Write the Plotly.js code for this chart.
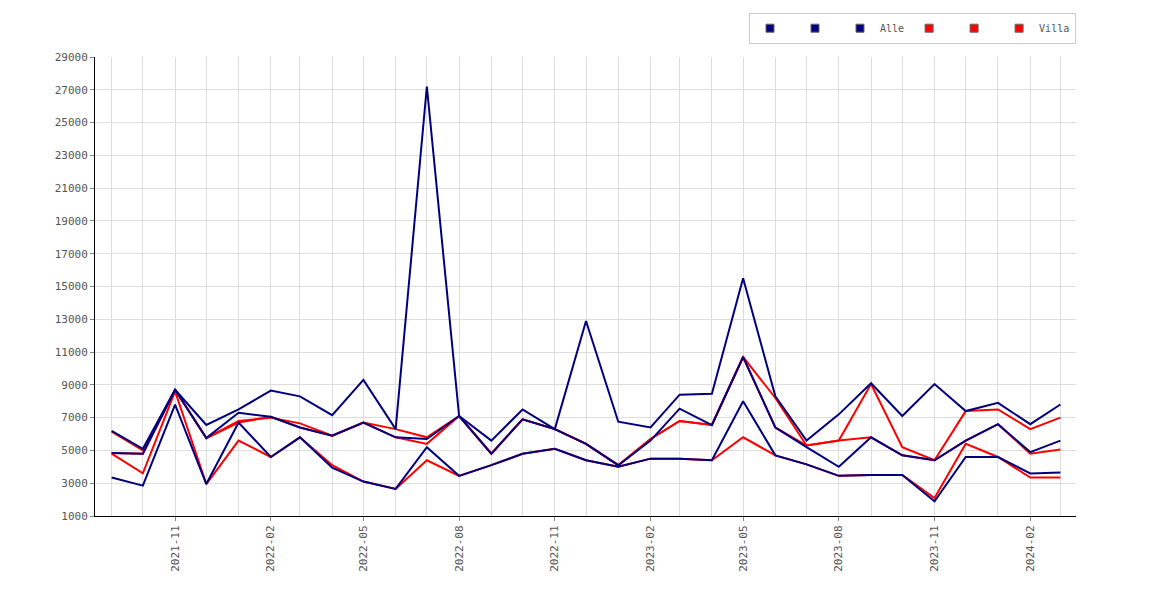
<!DOCTYPE html>
<html><head><meta charset="utf-8">
<script src="https://cdn.plot.ly/plotly-3.0.1.min.js"></script>
<style>body{margin:0}</style></head><body>
<div id="c" style="width:1170px;height:600px"></div>
<script>
const months = ["2021-09","2021-10","2021-11","2021-12","2022-01","2022-02","2022-03","2022-04","2022-05","2022-06","2022-07","2022-08","2022-09","2022-10","2022-11","2022-12","2023-01","2023-02","2023-03","2023-04","2023-05","2023-06","2023-07","2023-08","2023-09","2023-10","2023-11","2023-12","2024-01","2024-02","2024-03"];
const alleMax = [6200,5100,8700,6550,7500,8650,8300,7150,9300,6300,27200,7100,5600,7500,6300,12900,6750,6400,8400,8450,15500,8300,5600,7200,9100,7100,9050,7400,7900,6600,7800];
const alleMid = [4850,4800,8700,5750,7300,7050,6400,5900,6700,5800,5700,7100,4800,6900,6300,5400,4100,5600,7550,6550,10700,6400,5200,4000,5800,4700,4400,5600,6600,4900,5600];
const alleMin = [3350,2850,7800,2950,6700,4600,5800,3950,3100,2650,5200,3450,4100,4800,5100,4400,4000,4500,4500,4400,8000,4700,4150,3450,3500,3500,1900,4600,4600,3600,3650];
const villaMax = [6150,5000,8700,5750,6800,7000,6650,5900,6700,6300,5800,7100,4800,6900,6300,5400,4100,5700,6800,6550,10700,8200,5300,5600,9050,5200,4400,7400,7500,6300,7000];
const villaMid = [4850,4800,8700,5750,6700,7050,6400,5900,6700,5800,5400,7100,4800,6900,6300,5400,4100,5700,6800,6550,10700,6400,5300,5600,5800,4700,4400,5600,6600,4800,5050];
const villaMin = [4800,3600,8600,2950,5600,4600,5800,4100,3100,2650,4400,3450,4100,4800,5100,4400,4000,4500,4500,4400,5800,4700,4150,3450,3500,3500,2100,5400,4600,3350,3350];
const blue = "#00007f", red = "#ff0000";
function ln(y,c){return {x:months,y:y,mode:"lines",line:{color:c,width:2},showlegend:false,hoverinfo:"skip"};}
function lg(name,c){return {x:[null],y:[null],mode:"markers",name:name,marker:{symbol:"square",size:8,color:c,line:{color:"#666",width:1}}};}
const data = [ln(villaMax,red),ln(villaMid,red),ln(villaMin,red),ln(alleMax,blue),ln(alleMid,blue),ln(alleMin,blue),
  lg("",blue),lg("",blue),lg("Alle",blue),lg("",red),lg("",red),lg("Villa",red)];
const layout = {
  width:1170,height:600,margin:{l:95,r:94,t:57,b:84,autoexpand:false},
  paper_bgcolor:"#fff",plot_bgcolor:"#fff",
  font:{family:"DejaVu Sans Mono, monospace",size:11,color:"#555"},
  xaxis:{type:"date",range:["2021-08-16","2024-03-16"],tick0:"2021-11-01",dtick:"M3",tickformat:"%Y-%m",tickangle:-90,
    showgrid:true,gridcolor:"#ddd",minor:{dtick:"M1",showgrid:true,gridcolor:"#ddd"},
    showline:true,linecolor:"#000",ticks:"outside",ticklen:4,tickcolor:"#888",zeroline:false},
  yaxis:{range:[1000,29000],dtick:2000,tick0:1000,tickformat:"d",showgrid:true,gridcolor:"#ddd",showline:true,linecolor:"#000",
    ticks:"outside",ticklen:4,tickcolor:"#888",zeroline:false},
  legend:{orientation:"h",x:1,xanchor:"right",xref:"paper",yref:"container",y:0.953,yanchor:"middle",bordercolor:"#ccc",borderwidth:1,
    itemwidth:30,tracegroupgap:0,font:{size:10,color:"#555"}},
  showlegend:true
};
Plotly.newPlot("c",data,layout,{displayModeBar:false});
</script></body></html>
